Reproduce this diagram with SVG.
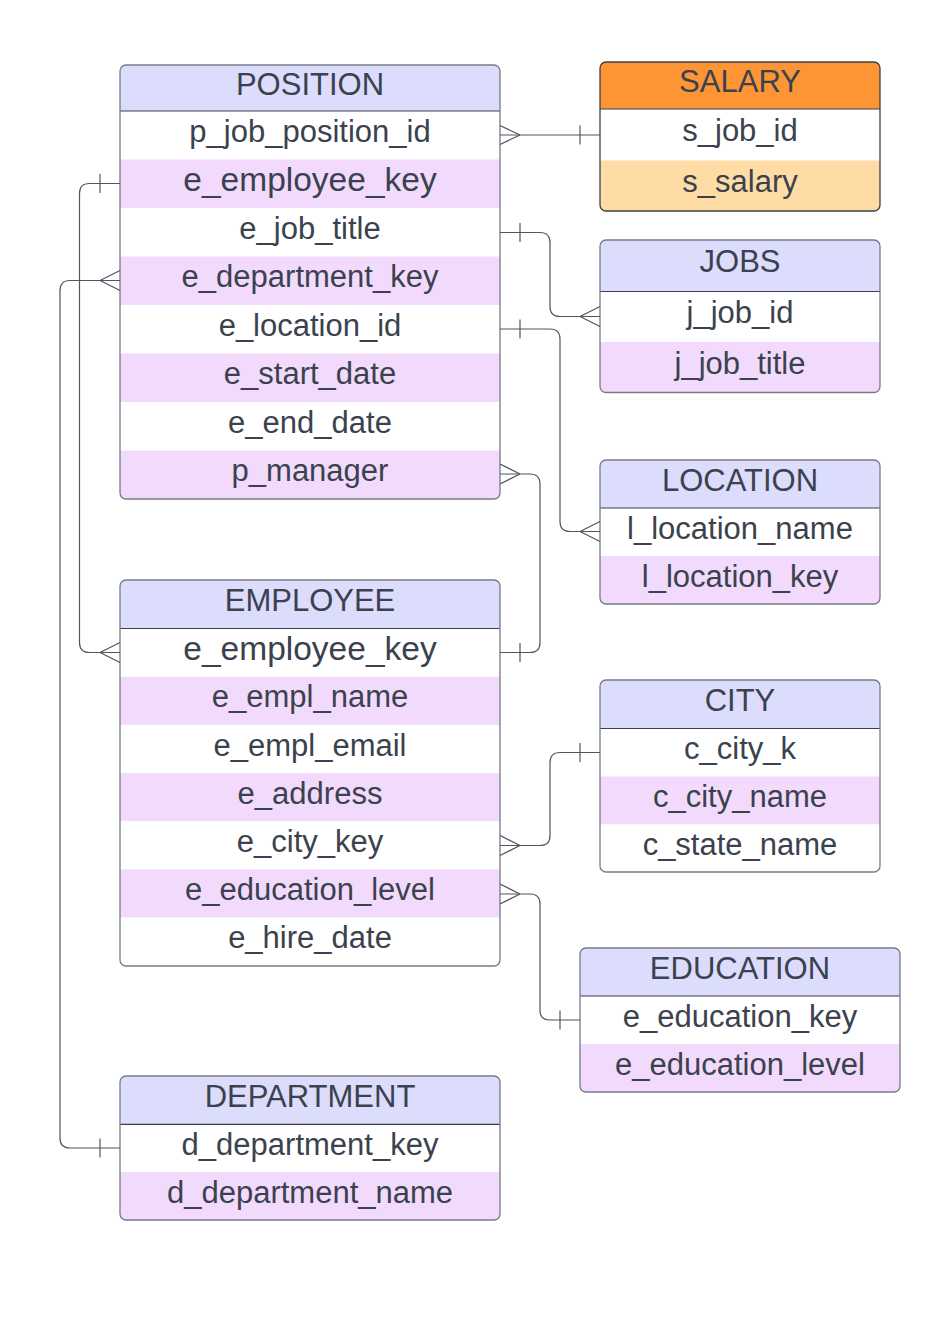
<svg xmlns="http://www.w3.org/2000/svg" width="932" height="1322" viewBox="0 0 932 1322">
<style>
text{font-family:"Liberation Sans",Arial,sans-serif;fill:#3b424d;text-anchor:middle;font-size:31px}
.hd{fill:#dcdcfd}
.pu{fill:#f1dafc}
.wh{fill:#ffffff}
.or{fill:#fe9535}
.lo{fill:#ffdca5}
.frame{fill:none;stroke:#767b86;stroke-width:1.3}
.sep{stroke:#3a414a;stroke-width:1.2}
.big{font-size:33.5px}
#connectors path{fill:none;stroke:#4f5561;stroke-width:1.2}
</style>
<defs>
<clipPath id="cpPos"><rect x="120" y="65" width="380" height="434" rx="6"/></clipPath>
<clipPath id="cpSal"><rect x="600" y="62" width="280" height="149" rx="6"/></clipPath>
<clipPath id="cpJob"><rect x="600" y="240" width="280" height="152.5" rx="6"/></clipPath>
<clipPath id="cpLoc"><rect x="600" y="460" width="280" height="144" rx="6"/></clipPath>
<clipPath id="cpCity"><rect x="600" y="680" width="280" height="192" rx="6"/></clipPath>
<clipPath id="cpEdu"><rect x="580" y="948" width="320" height="144" rx="6"/></clipPath>
<clipPath id="cpEmp"><rect x="120" y="580" width="380" height="386" rx="6"/></clipPath>
<clipPath id="cpDep"><rect x="120" y="1076" width="380" height="144" rx="6"/></clipPath>
</defs>
<rect width="932" height="1322" fill="#ffffff"/>

<g id="position">
<g clip-path="url(#cpPos)">
<rect class="hd" x="120" y="65" width="380" height="46"/>
<rect class="wh" x="120" y="111" width="380" height="48.5"/>
<rect class="pu" x="120" y="159.5" width="380" height="48.5"/>
<rect class="wh" x="120" y="208" width="380" height="48.5"/>
<rect class="pu" x="120" y="256.5" width="380" height="48.5"/>
<rect class="wh" x="120" y="305" width="380" height="48.5"/>
<rect class="pu" x="120" y="353.5" width="380" height="48.5"/>
<rect class="wh" x="120" y="402" width="380" height="48.5"/>
<rect class="pu" x="120" y="450.5" width="380" height="48.5"/>
</g>
<line class="sep" x1="120" y1="111" x2="500" y2="111"/>
<rect class="frame" x="120" y="65" width="380" height="434" rx="6"/>
<text x="310" y="94.5" font-size="30.5">POSITION</text>
<text x="310" y="141.75">p_job_position_id</text>
<text x="310" y="191" class="big">e_employee_key</text>
<text x="310" y="238.75">e_job_title</text>
<text x="310" y="287.25">e_department_key</text>
<text x="310" y="335.75">e_location_id</text>
<text x="310" y="384.25">e_start_date</text>
<text x="310" y="432.75">e_end_date</text>
<text x="310" y="481.25">p_manager</text>
</g>

<g id="salary">
<g clip-path="url(#cpSal)">
<rect class="or" x="600" y="62" width="280" height="47"/>
<rect class="wh" x="600" y="109" width="280" height="51.5"/>
<rect class="lo" x="600" y="160.5" width="280" height="50.5"/>
</g>
<line class="sep" x1="600" y1="109" x2="880" y2="109"/>
<rect class="frame" x="600" y="62" width="280" height="149" rx="6" style="stroke:#3a414a"/>
<text x="740" y="92" font-size="30.5">SALARY</text>
<text x="740" y="141.25">s_job_id</text>
<text x="740" y="192.25">s_salary</text>
</g>

<g id="jobs">
<g clip-path="url(#cpJob)">
<rect class="hd" x="600" y="240" width="280" height="51.5"/>
<rect class="wh" x="600" y="291.5" width="280" height="50.5"/>
<rect class="pu" x="600" y="342" width="280" height="50.5"/>
</g>
<line class="sep" x1="600" y1="291.5" x2="880" y2="291.5"/>
<rect class="frame" x="600" y="240" width="280" height="152.5" rx="6"/>
<text x="740" y="272.25" font-size="30.5">JOBS</text>
<text x="740" y="323.25">j_job_id</text>
<text x="740" y="373.75">j_job_title</text>
</g>

<g id="location">
<g clip-path="url(#cpLoc)">
<rect class="hd" x="600" y="460" width="280" height="48"/>
<rect class="wh" x="600" y="508" width="280" height="48"/>
<rect class="pu" x="600" y="556" width="280" height="48"/>
</g>
<line class="sep" x1="600" y1="508" x2="880" y2="508"/>
<rect class="frame" x="600" y="460" width="280" height="144" rx="6"/>
<text x="740" y="490.5" font-size="30.5">LOCATION</text>
<text x="740" y="538.5">l_location_name</text>
<text x="740" y="586.5">l_location_key</text>
</g>

<g id="city">
<g clip-path="url(#cpCity)">
<rect class="hd" x="600" y="680" width="280" height="48.5"/>
<rect class="wh" x="600" y="728.5" width="280" height="48"/>
<rect class="pu" x="600" y="776.5" width="280" height="48"/>
<rect class="wh" x="600" y="824.5" width="280" height="47.5"/>
</g>
<line class="sep" x1="600" y1="728.5" x2="880" y2="728.5"/>
<rect class="frame" x="600" y="680" width="280" height="192" rx="6"/>
<text x="740" y="710.75" font-size="30.5">CITY</text>
<text x="740" y="759">c_city_k</text>
<text x="740" y="807">c_city_name</text>
<text x="740" y="854.75">c_state_name</text>
</g>

<g id="education">
<g clip-path="url(#cpEdu)">
<rect class="hd" x="580" y="948" width="320" height="48"/>
<rect class="wh" x="580" y="996" width="320" height="48"/>
<rect class="pu" x="580" y="1044" width="320" height="48"/>
</g>
<line class="sep" x1="580" y1="996" x2="900" y2="996"/>
<rect class="frame" x="580" y="948" width="320" height="144" rx="6"/>
<text x="740" y="978.5" font-size="30.5">EDUCATION</text>
<text x="740" y="1026.5">e_education_key</text>
<text x="740" y="1074.5">e_education_level</text>
</g>

<g id="employee">
<g clip-path="url(#cpEmp)">
<rect class="hd" x="120" y="580" width="380" height="48.5"/>
<rect class="wh" x="120" y="628.5" width="380" height="48.2"/>
<rect class="pu" x="120" y="676.7" width="380" height="48.2"/>
<rect class="wh" x="120" y="724.9" width="380" height="48.2"/>
<rect class="pu" x="120" y="773.1" width="380" height="48.2"/>
<rect class="wh" x="120" y="821.3" width="380" height="48.2"/>
<rect class="pu" x="120" y="869.5" width="380" height="48.2"/>
<rect class="wh" x="120" y="917.7" width="380" height="48.3"/>
</g>
<line class="sep" x1="120" y1="628.5" x2="500" y2="628.5"/>
<rect class="frame" x="120" y="580" width="380" height="386" rx="6"/>
<text x="310" y="610.75" font-size="30.5">EMPLOYEE</text>
<text x="310" y="659.6" class="big">e_employee_key</text>
<text x="310" y="707.3">e_empl_name</text>
<text x="310" y="755.5">e_empl_email</text>
<text x="310" y="803.7">e_address</text>
<text x="310" y="851.9">e_city_key</text>
<text x="310" y="900.1">e_education_level</text>
<text x="310" y="948.3">e_hire_date</text>
</g>

<g id="department">
<g clip-path="url(#cpDep)">
<rect class="hd" x="120" y="1076" width="380" height="48.3"/>
<rect class="wh" x="120" y="1124.3" width="380" height="47.7"/>
<rect class="pu" x="120" y="1172" width="380" height="48"/>
</g>
<line class="sep" x1="120" y1="1124.3" x2="500" y2="1124.3"/>
<rect class="frame" x="120" y="1076" width="380" height="144" rx="6"/>
<text x="310" y="1106.5" font-size="30.5">DEPARTMENT</text>
<text x="310" y="1154.5">d_department_key</text>
<text x="310" y="1202.5">d_department_name</text>
</g>

<g id="connectors">
<path d="M500,135 H600"/>
<path d="M520,135 L500,125.5 M520,135 L500,144.5 M580,125.5 V144.5"/>

<path d="M500,232.5 H540 Q550,232.5 550,242.5 V306.5 Q550,316.5 560,316.5 H600"/>
<path d="M520,223 V242 M580,316.5 L600,306.5 M580,316.5 L600,326.5"/>

<path d="M500,329 H550 Q560,329 560,339 V521.5 Q560,531.5 570,531.5 H600"/>
<path d="M520,319.5 V338.5 M580,531.5 L600,521.5 M580,531.5 L600,541.5"/>

<path d="M500,474 H530 Q540,474 540,484 V642.5 Q540,652.5 530,652.5 H500"/>
<path d="M520,474 L500,464 M520,474 L500,484 M520,643 V662"/>

<path d="M120,183.5 H89.5 Q79.5,183.5 79.5,193.5 V642.5 Q79.5,652.5 89.5,652.5 H120"/>
<path d="M100,174 V193 M100,652.5 L120,642.5 M100,652.5 L120,662.5"/>

<path d="M120,280.5 H70 Q60,280.5 60,290.5 V1138 Q60,1148 70,1148 H120"/>
<path d="M100,280.5 L120,270.5 M100,280.5 L120,290.5 M100,1138.5 V1157.5"/>

<path d="M500,845.5 H540 Q550,845.5 550,835.5 V762.5 Q550,752.5 560,752.5 H600"/>
<path d="M520,845.5 L500,835.5 M520,845.5 L500,855.5 M580,743 V762"/>

<path d="M500,894 H530 Q540,894 540,904 V1010 Q540,1020 550,1020 H580"/>
<path d="M520,894 L500,884 M520,894 L500,904 M560,1010.5 V1029.5"/>
</g>
</svg>
